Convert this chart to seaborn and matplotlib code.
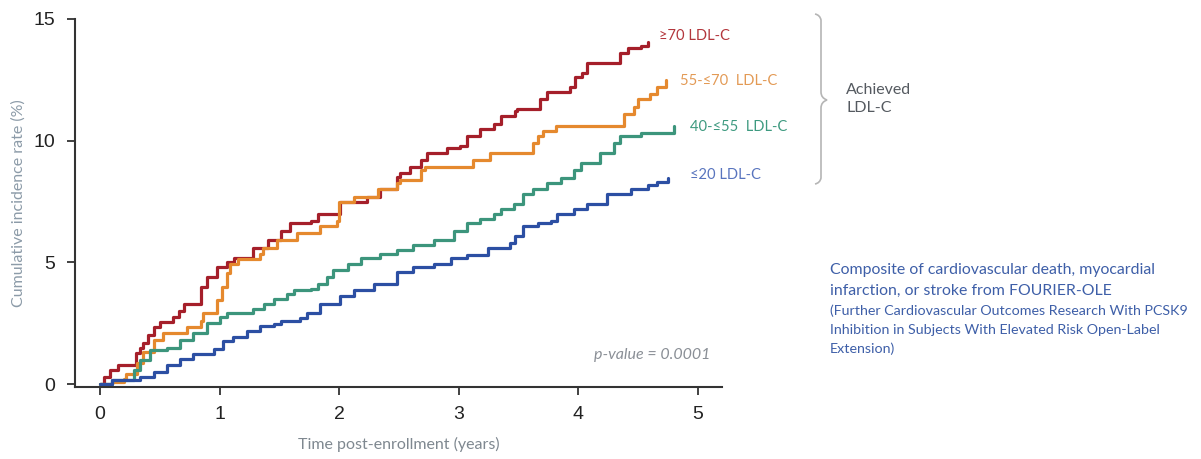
import matplotlib
matplotlib.use("Agg")
import matplotlib.pyplot as plt
from matplotlib.path import Path
from matplotlib.patches import PathPatch
import numpy as np
import pandas as pd
import seaborn as sns

# Kaplan-Meier style cumulative incidence (%) by achieved LDL-C group
groups = ["≥70 LDL-C", "55-≤70  LDL-C", "40-≤55  LDL-C", "≤20 LDL-C"]

t_70 = [0, 0.03, 0.08, 0.15, 0.28, 0.3, 0.33, 0.36, 0.4, 0.45, 0.5, 0.61, 0.66, 0.7, 0.78, 0.84,
        0.89, 0.98, 1.06, 1.12, 1.28, 1.4, 1.51, 1.59, 1.76, 1.82, 1.98, 2.01, 2.12, 2.23, 2.34,
        2.48, 2.51, 2.59, 2.68, 2.73, 2.9, 3.01, 3.07, 3.18, 3.29, 3.35, 3.47, 3.49, 3.68, 3.74,
        3.88, 3.93, 3.97, 4.03, 4.07, 4.35, 4.41, 4.52, 4.58]
v_70 = [0, 0.3, 0.57, 0.78, 0.78, 1.27, 1.5, 1.68, 2.0, 2.35, 2.56, 2.77, 3.0, 3.3, 3.3, 4.0,
        4.4, 4.8, 5.0, 5.2, 5.6, 5.9, 6.3, 6.6, 6.7, 7.0, 7.0, 7.5, 7.5, 7.7, 8.0,
        8.5, 8.66, 8.9, 9.2, 9.5, 9.7, 9.8, 10.2, 10.5, 10.7, 11.0, 11.2, 11.3, 11.7, 12.0,
        12.0, 12.2, 12.6, 12.8, 13.2, 13.6, 13.8, 13.9, 14.05]

t_55 = [0, 0.1, 0.2, 0.22, 0.31, 0.36, 0.45, 0.53, 0.73, 0.84, 0.86, 0.98, 1.02, 1.06, 1.09,
        1.15, 1.34, 1.36, 1.48, 1.65, 1.84, 1.98, 2.0, 2.12, 2.32, 2.48, 2.51, 2.68, 2.72, 3.12,
        3.26, 3.62, 3.66, 3.7, 3.81, 4.38, 4.46, 4.5, 4.6, 4.66, 4.73]
v_55 = [0, 0.1, 0.2, 0.4, 0.85, 1.3, 1.8, 2.1, 2.35, 2.6, 2.9, 3.45, 4.0, 4.55, 4.95,
        5.15, 5.35, 5.6, 5.9, 6.2, 6.5, 6.7, 7.5, 7.7, 8.0, 8.25, 8.4, 8.8, 8.9, 9.2,
        9.5, 9.9, 10.2, 10.4, 10.6, 11.1, 11.4, 11.7, 11.9, 12.2, 12.5]

t_40 = [0, 0.1, 0.28, 0.33, 0.42, 0.56, 0.67, 0.78, 0.89, 1.0, 1.06, 1.28, 1.37, 1.45, 1.56,
        1.62, 1.76, 1.82, 1.9, 1.95, 2.07, 2.18, 2.34, 2.48, 2.62, 2.79, 2.96, 3.07, 3.18, 3.29,
        3.35, 3.46, 3.54, 3.62, 3.74, 3.85, 3.96, 4.02, 4.18, 4.3, 4.35, 4.52, 4.8]
v_40 = [0, 0.15, 0.57, 1.0, 1.4, 1.5, 1.8, 2.1, 2.5, 2.75, 2.9, 3.1, 3.3, 3.5, 3.7,
        3.85, 3.9, 4.1, 4.4, 4.7, 4.95, 5.2, 5.35, 5.5, 5.7, 5.9, 6.3, 6.6, 6.8, 7.0,
        7.2, 7.4, 7.8, 8.0, 8.25, 8.45, 8.8, 9.1, 9.5, 9.9, 10.2, 10.3, 10.6]

t_20 = [0, 0.1, 0.33, 0.45, 0.56, 0.67, 0.78, 0.95, 1.03, 1.11, 1.23, 1.34, 1.45, 1.51, 1.67,
        1.73, 1.84, 2.01, 2.12, 2.29, 2.48, 2.62, 2.79, 2.93, 3.07, 3.24, 3.43, 3.47, 3.54, 3.66,
        3.77, 3.82, 3.96, 4.07, 4.24, 4.44, 4.58, 4.66, 4.75]
v_20 = [0, 0.15, 0.3, 0.5, 0.8, 1.05, 1.25, 1.45, 1.75, 1.95, 2.2, 2.4, 2.45, 2.6, 2.7,
        2.9, 3.3, 3.6, 3.85, 4.1, 4.6, 4.8, 4.95, 5.2, 5.3, 5.6, 5.8, 6.1, 6.5, 6.6,
        6.7, 7.0, 7.2, 7.4, 7.8, 8.0, 8.2, 8.3, 8.45]

line_colors = ["#A51F2A", "#E5892E", "#3C957C", "#2C4FA3"]
label_colors = ["#B3363C", "#E39A55", "#3E9A80", "#5874BE"]
x_ticks = [0, 1, 2, 3, 4, 5]
y_ticks = [0, 5, 10, 15]

frames = []
for name, t, v in zip(groups, [t_70, t_55, t_40, t_20], [v_70, v_55, v_40, v_20]):
    frames.append(pd.DataFrame({"time": t, "rate": v, "group": name}))
df = pd.concat(frames, ignore_index=True)

sns.set_theme(style="white")
plt.rcParams["font.family"] = ["Lato", "DejaVu Sans"]

W, H = 1201, 459
fig = plt.figure(figsize=(W / 100, H / 100), dpi=100)
ax = fig.add_axes([75 / W, 1 - 387 / H, (722 - 75) / W, (387 - 19) / H])

sns.lineplot(data=df, x="time", y="rate", hue="group", hue_order=groups,
             palette=line_colors, estimator=None, sort=False,
             drawstyle="steps-post", linewidth=2.3, legend=False, ax=ax)

ax.set_xlim(-0.21, 5.2)
ax.set_ylim(-0.12, 15)
ax.set_xticks(x_ticks)
ax.set_yticks(y_ticks)
ax.set_xticklabels([str(x) for x in x_ticks], fontsize=14, color="#222222", family="Liberation Sans")
ax.set_yticklabels([str(y) for y in y_ticks], fontsize=14, color="#222222", family="Liberation Sans")
ax.tick_params(axis="both", direction="out", length=6, width=1.3, color="#333333",
               bottom=True, left=True, pad=8)
for side in ["top", "right"]:
    ax.spines[side].set_visible(False)
for side in ["left", "bottom"]:
    ax.spines[side].set_color("#333333")
    ax.spines[side].set_linewidth(1.5)

ax.set_xlabel("Time post-enrollment (years)", fontsize=11.5, color="#7f8890", labelpad=10)
ax.set_ylabel("Cumulative incidence rate (%)", fontsize=11.5, color="#8c9ba8", labelpad=6)

# group labels at the end of each curve
label_pos = [(4.67, 14.3), (4.85, 12.45), (4.93, 10.56), (4.93, 8.59)]
for name, (x, y), c in zip(groups, label_pos, label_colors):
    ax.text(x, y, name, color=c, fontsize=10.6, va="center", ha="left")

ax.text(5.1, 1.2, "p-value = 0.0001", fontsize=11.5, style="italic", color="#8a8f96",
        ha="right", va="center")

# curly brace grouping the LDL-C labels
def px(x, y):
    return (x / W, 1 - y / H)

verts = [px(815, 14), px(820, 15), px(821, 20), px(821, 20), px(821, 92), px(821, 92),
         px(821, 98), px(827, 100), px(821, 102), px(821, 108), px(821, 108), px(821, 178),
         px(821, 178), px(820, 183), px(815, 184)]
codes = [Path.MOVETO, Path.CURVE3, Path.CURVE3, Path.LINETO, Path.LINETO, Path.LINETO,
         Path.CURVE3, Path.CURVE3, Path.CURVE3, Path.CURVE3, Path.LINETO, Path.LINETO,
         Path.LINETO, Path.CURVE3, Path.CURVE3]
brace = PathPatch(Path(verts, codes), transform=fig.transFigure, fill=False,
                  edgecolor="#b5b5b5", linewidth=1.2)
fig.patches.append(brace)

fig.text(846 / W, 1 - 99 / H, "Achieved\nLDL-C", fontsize=11.5, color="#555a60",
         ha="left", va="center", linespacing=1.45)

cap_color = "#3e5fa8"
fig.text(830 / W, 1 - 270 / H, "Composite of cardiovascular death, myocardial",
         fontsize=11.4, color=cap_color, va="center")
fig.text(830 / W, 1 - 291 / H, "infarction, or stroke from FOURIER-OLE",
         fontsize=11.4, color=cap_color, va="center")
fig.text(830 / W, 1 - 311 / H, "(Further Cardiovascular Outcomes Research With PCSK9",
         fontsize=10.3, color=cap_color, va="center")
fig.text(830 / W, 1 - 330 / H, "Inhibition in Subjects With Elevated Risk Open-Label",
         fontsize=10.3, color=cap_color, va="center")
fig.text(830 / W, 1 - 349 / H, "Extension)",
         fontsize=10.3, color=cap_color, va="center")

fig.savefig("out.png", dpi=100, facecolor="white")
